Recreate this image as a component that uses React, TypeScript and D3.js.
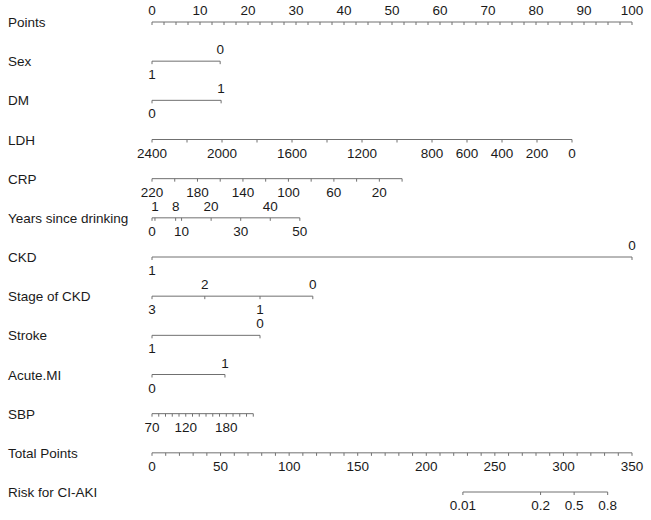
import React from "react";
import * as d3 from "d3";

const ROWS = ["Points", "Sex", "DM", "LDH", "CRP", "Years since drinking", "CKD", "Stage of CKD", "Stroke", "Acute.MI", "SBP", "Total Points", "Risk for CI-AKI"];

const pointsLabels = [0, 10, 20, 30, 40, 50, 60, 70, 80, 90, 100];

const sexValues = [1, 0];
const sexPoints = [0, 14.2];
const dmValues = [0, 1];
const dmPoints = [0, 14.4];
const ldhValues = [2400, 0];
const ldhPoints = [0, 87.5];
const ldhTicks = [2400, 2200, 2000, 1800, 1600, 1400, 1200, 1000, 800, 600, 400, 200, 0];
const ldhLabels = [2400, 2000, 1600, 1200, 800, 600, 400, 200, 0];
const crpValues = [220, 0];
const crpPoints = [0, 52.1];
const crpTicks = [220, 200, 180, 160, 140, 120, 100, 80, 60, 40, 20, 0];
const crpLabels = [220, 180, 140, 100, 60, 20];
const yearsValues = [0, 50];
const yearsPoints = [0, 30.8];
const yearsTicks = [0, 1, 8, 10, 20, 30, 40, 50];
const yearsAbove = [1, 8, 20, 40];
const yearsBelow = [0, 10, 30, 50];
const ckdValues = [1, 0];
const ckdPoints = [0, 100];
const stageValues = [3, 2, 1, 0];
const stagePoints = [0, 11, 22.5, 33.5];
const stageAbove = [2, 0];
const stageBelow = [3, 1];
const strokeValues = [1, 0];
const strokePoints = [0, 22.5];
const miValues = [0, 1];
const miPoints = [0, 15.2];
const sbpValues = [70, 220];
const sbpPoints = [0, 21.1];
const sbpTicks = [70, 80, 90, 100, 110, 120, 130, 140, 150, 160, 170, 180, 190, 200, 210, 220];
const sbpLabels = [70, 120, 180];
const totalLabels = [0, 50, 100, 150, 200, 250, 300, 350];
const riskTicks = [0.01, 0.2, 0.5, 0.8];
const riskHalfPoints = 307.8;
const riskPointsPerLogit = 17.65;

type Var = {
  row: string;
  values: number[];
  points: number[];
  ticks: number[];
  above: number[];
  below: number[];
};

const vars: Var[] = [
  { row: "Sex", values: sexValues, points: sexPoints, ticks: sexValues, above: [0], below: [1] },
  { row: "DM", values: dmValues, points: dmPoints, ticks: dmValues, above: [1], below: [0] },
  { row: "LDH", values: ldhValues, points: ldhPoints, ticks: ldhTicks, above: [], below: ldhLabels },
  { row: "CRP", values: crpValues, points: crpPoints, ticks: crpTicks, above: [], below: crpLabels },
  { row: "Years since drinking", values: yearsValues, points: yearsPoints, ticks: yearsTicks, above: yearsAbove, below: yearsBelow },
  { row: "CKD", values: ckdValues, points: ckdPoints, ticks: ckdValues, above: [0], below: [1] },
  { row: "Stage of CKD", values: stageValues, points: stagePoints, ticks: stageValues, above: stageAbove, below: stageBelow },
  { row: "Stroke", values: strokeValues, points: strokePoints, ticks: strokeValues, above: [0], below: [1] },
  { row: "Acute.MI", values: miValues, points: miPoints, ticks: miValues, above: [1], below: [0] },
  { row: "SBP", values: sbpValues, points: sbpPoints, ticks: sbpTicks, above: [], below: sbpLabels },
];

const LINE = "#707070";
const TEXT = "#1a1a1a";
const FONT = "Liberation Sans, Arial, Helvetica, sans-serif";
const FS = 13.5;

export default function App() {
  const W = 651, H = 520;
  const xP = d3.scaleLinear().domain([0, 100]).range([152, 632]);
  const xT = d3.scaleLinear().domain([0, 350]).range([152, 632]);
  const y = d3.scalePoint<string>().domain(ROWS).range([22, 492]);
  const tickLen = 3;

  const axisLine = (x0: number, x1: number, yy: number, ticks: number[], key: string) => (
    <g key={key}>
      <line x1={x0} x2={x1} y1={yy} y2={yy} stroke={LINE} strokeWidth={1} />
      {ticks.map((t, i) => (
        <line key={i} x1={t} x2={t} y1={yy} y2={yy + tickLen} stroke={LINE} strokeWidth={1} />
      ))}
    </g>
  );

  const label = (x: number, yy: number, txt: string, key: string) => (
    <text key={key} x={x} y={yy} textAnchor="middle" fontSize={FS} fill={TEXT} fontFamily={FONT}>{txt}</text>
  );

  const yp = y("Points")!;
  const pointsMinor = d3.range(0, 100.001, 2.5);

  const yt = y("Total Points")!;
  const totalMinor = d3.range(0, 350.001, 10);

  const yr = y("Risk for CI-AKI")!;
  const riskX = (p: number) => xT(riskHalfPoints + riskPointsPerLogit * Math.log(p / (1 - p)));

  return (
    <svg width={W} height={H} style={{ position: "absolute", left: 0, top: 0, background: "#fff" }}>
      <rect x={0} y={0} width={W} height={H} fill="#fff" />
      {ROWS.map((r) => (
        <text key={r} x={8} y={y(r)! + 5} fontSize={FS} fill={TEXT} fontFamily={FONT}>{r}</text>
      ))}

      {axisLine(xP(0), xP(100), yp, pointsMinor.map((v) => xP(v)), "pts")}
      {pointsLabels.map((v) => label(xP(v), yp - 7, String(v), "pl" + v))}

      {vars.map((v) => {
        const s = d3.scaleLinear().domain(v.values).range(v.points);
        const yy = y(v.row)!;
        const xs = v.ticks.map((t) => xP(s(t)));
        const x0 = d3.min(xs)!, x1 = d3.max(xs)!;
        return (
          <g key={v.row}>
            {axisLine(x0, x1, yy, xs, "a" + v.row)}
            {v.above.map((t) => label(xP(s(t)), yy - 7, String(t), "ab" + t))}
            {v.below.map((t) => label(xP(s(t)), yy + 18, String(t), "be" + t))}
          </g>
        );
      })}

      {axisLine(xT(0), xT(350), yt, totalMinor.map((v) => xT(v)), "tot")}
      {totalLabels.map((v) => label(xT(v), yt + 18, String(v), "tl" + v))}

      {axisLine(riskX(riskTicks[0]), riskX(riskTicks[riskTicks.length - 1]), yr, riskTicks.map(riskX), "risk")}
      {riskTicks.map((v) => label(riskX(v), yr + 18, String(v), "rl" + v))}
    </svg>
  );
}
